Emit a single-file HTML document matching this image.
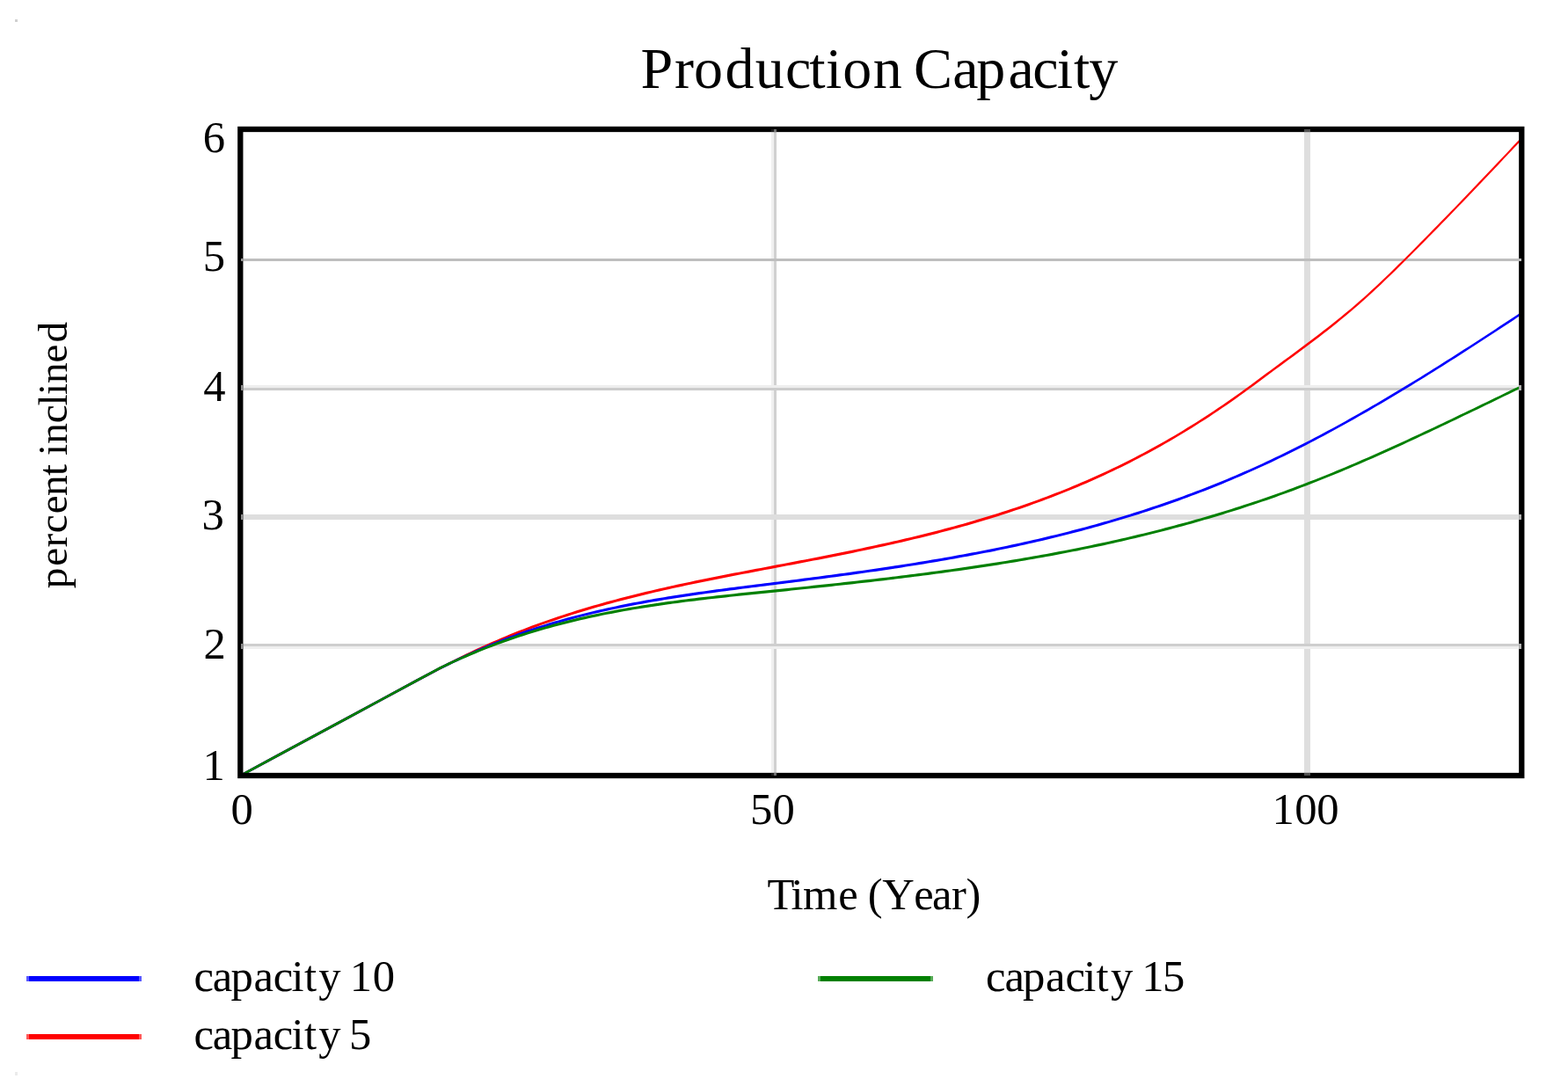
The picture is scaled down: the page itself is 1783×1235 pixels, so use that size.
<!DOCTYPE html>
<html><head><meta charset="utf-8"><title>Production Capacity</title>
<style>
html,body{margin:0;padding:0;background:#fff;width:1783px;height:1235px;overflow:hidden}
svg{display:block}
text{font-family:"Liberation Serif","Times New Roman",serif;fill:#000}
</style></head><body>
<svg width="1783" height="1235" viewBox="0 0 1783 1235">
<rect x="0" y="0" width="1783" height="1235" fill="#fff"/>
<rect x="17" y="22" width="3" height="3" fill="#d0d0d0"/>
<rect x="17" y="1219" width="3" height="4" fill="#ebebeb"/>
<g shape-rendering="crispEdges">
<rect x="877" y="150" width="3" height="729" fill="#f0f0f0"/>
<rect x="880" y="150" width="3" height="729" fill="#d0d0d0"/>
<rect x="1483" y="150" width="7" height="729" fill="#dedede"/>
<rect x="277" y="294" width="1450" height="3" fill="#bebebe"/>
<rect x="277" y="438" width="1450" height="3" fill="#eeeeee"/>
<rect x="277" y="441" width="1450" height="3" fill="#cccccc"/>
<rect x="277" y="585" width="1450" height="6" fill="#dedede"/>
<rect x="277" y="732" width="1450" height="3" fill="#cecece"/>
<rect x="277" y="735" width="1450" height="3" fill="#efefef"/>
</g>
<g stroke="none">
<path d="M 273.5 880.42 L 313.5 858.86 L 353.5 837.30 L 393.5 815.74 L 433.5 794.18 L 473.5 772.62 L 500.0 758.52 L 505.0 755.96 L 510.0 753.43 L 515.0 750.93 L 520.0 748.46 L 525.0 746.01 L 530.0 743.60 L 535.0 741.21 L 540.0 738.86 L 545.0 736.54 L 550.0 734.26 L 555.0 732.02 L 560.0 729.81 L 565.0 727.64 L 570.0 725.50 L 575.0 723.41 L 580.0 721.35 L 585.0 719.33 L 590.0 717.35 L 595.0 715.40 L 600.0 713.49 L 605.0 711.61 L 610.0 709.77 L 615.0 707.96 L 620.0 706.18 L 625.0 704.43 L 630.0 702.72 L 635.0 701.03 L 640.0 699.38 L 645.0 697.75 L 650.0 696.15 L 655.0 694.58 L 660.0 693.04 L 665.0 691.53 L 670.0 690.04 L 675.0 688.58 L 680.0 687.14 L 685.0 685.73 L 690.0 684.34 L 695.0 682.98 L 700.0 681.63 L 705.0 680.31 L 710.0 679.01 L 715.0 677.73 L 720.0 676.47 L 725.0 675.23 L 730.0 674.01 L 735.0 672.81 L 740.0 671.63 L 745.0 670.46 L 750.0 669.31 L 755.0 668.17 L 760.0 667.05 L 765.0 665.94 L 770.0 664.85 L 775.0 663.77 L 780.0 662.70 L 785.0 661.65 L 790.0 660.60 L 795.0 659.57 L 800.0 658.55 L 805.0 657.54 L 810.0 656.53 L 815.0 655.53 L 820.0 654.55 L 825.0 653.56 L 830.0 652.59 L 835.0 651.62 L 840.0 650.66 L 845.0 649.70 L 850.0 648.74 L 855.0 647.79 L 860.0 646.84 L 865.0 645.89 L 870.0 644.94 L 875.0 644.00 L 880.0 643.05 L 885.0 642.10 L 890.0 641.16 L 895.0 640.21 L 900.0 639.26 L 905.0 638.31 L 910.0 637.35 L 915.0 636.39 L 920.0 635.43 L 925.0 634.46 L 930.0 633.49 L 935.0 632.51 L 940.0 631.53 L 945.0 630.54 L 950.0 629.54 L 955.0 628.54 L 960.0 627.53 L 965.0 626.51 L 970.0 625.48 L 975.0 624.45 L 980.0 623.40 L 985.0 622.35 L 990.0 621.28 L 995.0 620.20 L 1000.0 619.11 L 1005.0 618.01 L 1010.0 616.90 L 1015.0 615.78 L 1020.0 614.64 L 1025.0 613.49 L 1030.0 612.32 L 1035.0 611.14 L 1040.0 609.94 L 1045.0 608.73 L 1050.0 607.50 L 1055.0 606.26 L 1060.0 605.00 L 1065.0 603.72 L 1070.0 602.42 L 1075.0 601.11 L 1080.0 599.77 L 1085.0 598.42 L 1090.0 597.05 L 1095.0 595.65 L 1100.0 594.24 L 1105.0 592.80 L 1110.0 591.35 L 1115.0 589.87 L 1120.0 588.36 L 1125.0 586.84 L 1130.0 585.29 L 1135.0 583.72 L 1140.0 582.12 L 1145.0 580.50 L 1150.0 578.85 L 1155.0 577.17 L 1160.0 575.47 L 1165.0 573.75 L 1170.0 571.99 L 1175.0 570.21 L 1180.0 568.40 L 1185.0 566.56 L 1190.0 564.69 L 1195.0 562.79 L 1200.0 560.86 L 1205.0 558.90 L 1210.0 556.91 L 1215.0 554.89 L 1220.0 552.83 L 1225.0 550.74 L 1230.0 548.62 L 1235.0 546.47 L 1240.0 544.28 L 1245.0 542.06 L 1250.0 539.80 L 1255.0 537.51 L 1260.0 535.18 L 1265.0 532.82 L 1270.0 530.41 L 1275.0 527.97 L 1280.0 525.50 L 1285.0 522.98 L 1290.0 520.43 L 1295.0 517.84 L 1300.0 515.20 L 1305.0 512.53 L 1310.0 509.82 L 1315.0 507.06 L 1320.0 504.27 L 1325.0 501.43 L 1330.0 498.55 L 1335.0 495.63 L 1340.0 492.66 L 1345.0 489.66 L 1350.0 486.61 L 1355.0 483.52 L 1360.0 480.38 L 1365.0 477.21 L 1370.0 473.99 L 1375.0 470.73 L 1380.0 467.42 L 1385.0 464.07 L 1390.0 460.68 L 1395.0 457.25 L 1400.0 453.78 L 1405.0 450.26 L 1410.0 446.70 L 1415.0 443.09 L 1420.0 439.44 L 1425.0 435.75 L 1430.0 432.03 L 1435.0 428.30 L 1440.0 424.58 L 1445.0 420.88 L 1450.0 417.19 L 1455.0 413.51 L 1460.0 409.84 L 1465.0 406.16 L 1470.0 402.47 L 1475.0 398.78 L 1480.0 395.06 L 1485.0 391.33 L 1490.0 387.58 L 1495.0 383.79 L 1500.0 379.97 L 1505.0 376.12 L 1510.0 372.22 L 1515.0 368.27 L 1520.0 364.27 L 1525.0 360.21 L 1530.0 356.09 L 1535.0 351.91 L 1540.0 347.65 L 1545.0 343.32 L 1550.0 338.91 L 1555.0 334.42 L 1560.0 329.85 L 1565.0 325.20 L 1570.0 320.48 L 1575.0 315.71 L 1580.0 310.88 L 1585.0 306.00 L 1590.0 301.09 L 1595.0 296.14 L 1600.0 291.16 L 1605.0 286.16 L 1610.0 281.14 L 1615.0 276.09 L 1620.0 271.03 L 1625.0 265.96 L 1630.0 260.86 L 1635.0 255.75 L 1640.0 250.62 L 1645.0 245.47 L 1650.0 240.31 L 1655.0 235.14 L 1660.0 229.95 L 1665.0 224.75 L 1670.0 219.53 L 1675.0 214.31 L 1680.0 209.07 L 1685.0 203.83 L 1690.0 198.57 L 1695.0 193.30 L 1700.0 188.03 L 1705.0 182.75 L 1710.0 177.46 L 1715.0 172.17 L 1720.0 166.87 L 1725.0 161.57 L 1730.0 156.26 L 1730.5 155.73 L 1730.5 158.89 L 1730.0 159.42 L 1725.0 164.73 L 1720.0 170.03 L 1715.0 175.33 L 1710.0 180.62 L 1705.0 185.91 L 1700.0 191.19 L 1695.0 196.46 L 1690.0 201.73 L 1685.0 206.99 L 1680.0 212.23 L 1675.0 217.47 L 1670.0 222.69 L 1665.0 227.91 L 1660.0 233.11 L 1655.0 238.30 L 1650.0 243.47 L 1645.0 248.63 L 1640.0 253.78 L 1635.0 258.91 L 1630.0 264.02 L 1625.0 269.12 L 1620.0 274.19 L 1615.0 279.25 L 1610.0 284.30 L 1605.0 289.32 L 1600.0 294.32 L 1595.0 299.30 L 1590.0 304.25 L 1585.0 309.16 L 1580.0 314.04 L 1575.0 318.87 L 1570.0 323.64 L 1565.0 328.36 L 1560.0 333.01 L 1555.0 337.58 L 1550.0 342.07 L 1545.0 346.48 L 1540.0 350.81 L 1535.0 355.07 L 1530.0 359.25 L 1525.0 363.37 L 1520.0 367.43 L 1515.0 371.43 L 1510.0 375.38 L 1505.0 379.28 L 1500.0 383.13 L 1495.0 386.95 L 1490.0 390.74 L 1485.0 394.49 L 1480.0 398.22 L 1475.0 401.94 L 1470.0 405.63 L 1465.0 409.32 L 1460.0 413.00 L 1455.0 416.67 L 1450.0 420.35 L 1445.0 424.04 L 1440.0 427.74 L 1435.0 431.46 L 1430.0 435.19 L 1425.0 438.91 L 1420.0 442.60 L 1415.0 446.25 L 1410.0 449.86 L 1405.0 453.42 L 1400.0 456.94 L 1395.0 460.41 L 1390.0 463.84 L 1385.0 467.23 L 1380.0 470.58 L 1375.0 473.89 L 1370.0 477.15 L 1365.0 480.37 L 1360.0 483.54 L 1355.0 486.68 L 1350.0 489.77 L 1345.0 492.82 L 1340.0 495.82 L 1335.0 498.79 L 1330.0 501.71 L 1325.0 504.59 L 1320.0 507.43 L 1315.0 510.22 L 1310.0 512.98 L 1305.0 515.69 L 1300.0 518.36 L 1295.0 521.00 L 1290.0 523.59 L 1285.0 526.14 L 1280.0 528.66 L 1275.0 531.13 L 1270.0 533.57 L 1265.0 535.98 L 1260.0 538.34 L 1255.0 540.67 L 1250.0 542.96 L 1245.0 545.22 L 1240.0 547.44 L 1235.0 549.63 L 1230.0 551.78 L 1225.0 553.90 L 1220.0 555.99 L 1215.0 558.05 L 1210.0 560.07 L 1205.0 562.06 L 1200.0 564.02 L 1195.0 565.95 L 1190.0 567.85 L 1185.0 569.72 L 1180.0 571.56 L 1175.0 573.37 L 1170.0 575.15 L 1165.0 576.91 L 1160.0 578.63 L 1155.0 580.33 L 1150.0 582.01 L 1145.0 583.66 L 1140.0 585.28 L 1135.0 586.88 L 1130.0 588.45 L 1125.0 590.00 L 1120.0 591.52 L 1115.0 593.03 L 1110.0 594.51 L 1105.0 595.96 L 1100.0 597.40 L 1095.0 598.81 L 1090.0 600.21 L 1085.0 601.58 L 1080.0 602.93 L 1075.0 604.27 L 1070.0 605.58 L 1065.0 606.88 L 1060.0 608.16 L 1055.0 609.42 L 1050.0 610.66 L 1045.0 611.89 L 1040.0 613.10 L 1035.0 614.30 L 1030.0 615.48 L 1025.0 616.65 L 1020.0 617.80 L 1015.0 618.94 L 1010.0 620.06 L 1005.0 621.17 L 1000.0 622.27 L 995.0 623.36 L 990.0 624.44 L 985.0 625.51 L 980.0 626.56 L 975.0 627.61 L 970.0 628.64 L 965.0 629.67 L 960.0 630.69 L 955.0 631.70 L 950.0 632.70 L 945.0 633.70 L 940.0 634.69 L 935.0 635.67 L 930.0 636.65 L 925.0 637.62 L 920.0 638.59 L 915.0 639.55 L 910.0 640.51 L 905.0 641.47 L 900.0 642.42 L 895.0 643.37 L 890.0 644.32 L 885.0 645.26 L 880.0 646.21 L 875.0 647.16 L 870.0 648.10 L 865.0 649.05 L 860.0 650.00 L 855.0 650.95 L 850.0 651.90 L 845.0 652.86 L 840.0 653.82 L 835.0 654.78 L 830.0 655.75 L 825.0 656.72 L 820.0 657.71 L 815.0 658.69 L 810.0 659.69 L 805.0 660.70 L 800.0 661.71 L 795.0 662.73 L 790.0 663.76 L 785.0 664.81 L 780.0 665.86 L 775.0 666.93 L 770.0 668.01 L 765.0 669.10 L 760.0 670.21 L 755.0 671.33 L 750.0 672.47 L 745.0 673.62 L 740.0 674.79 L 735.0 675.97 L 730.0 677.17 L 725.0 678.39 L 720.0 679.63 L 715.0 680.89 L 710.0 682.17 L 705.0 683.47 L 700.0 684.79 L 695.0 686.14 L 690.0 687.50 L 685.0 688.89 L 680.0 690.30 L 675.0 691.74 L 670.0 693.20 L 665.0 694.69 L 660.0 696.20 L 655.0 697.74 L 650.0 699.31 L 645.0 700.91 L 640.0 702.54 L 635.0 704.19 L 630.0 705.88 L 625.0 707.59 L 620.0 709.34 L 615.0 711.12 L 610.0 712.93 L 605.0 714.77 L 600.0 716.65 L 595.0 718.56 L 590.0 720.51 L 585.0 722.49 L 580.0 724.51 L 575.0 726.57 L 570.0 728.66 L 565.0 730.80 L 560.0 732.97 L 555.0 735.18 L 550.0 737.42 L 545.0 739.70 L 540.0 742.02 L 535.0 744.37 L 530.0 746.76 L 525.0 749.17 L 520.0 751.62 L 515.0 754.09 L 510.0 756.59 L 505.0 759.12 L 500.0 761.68 L 473.5 775.78 L 433.5 797.34 L 393.5 818.90 L 353.5 840.46 L 313.5 862.02 L 273.5 883.58 Z" fill="#ff0000"/>
<path d="M 273.5 880.42 L 313.5 858.86 L 353.5 837.30 L 393.5 815.74 L 433.5 794.18 L 473.5 772.62 L 500.0 758.46 L 505.0 755.98 L 510.0 753.53 L 515.0 751.13 L 520.0 748.76 L 525.0 746.43 L 530.0 744.14 L 535.0 741.89 L 540.0 739.68 L 545.0 737.51 L 550.0 735.38 L 555.0 733.29 L 560.0 731.25 L 565.0 729.24 L 570.0 727.27 L 575.0 725.35 L 580.0 723.47 L 585.0 721.63 L 590.0 719.83 L 595.0 718.07 L 600.0 716.36 L 605.0 714.68 L 610.0 713.04 L 615.0 711.44 L 620.0 709.88 L 625.0 708.35 L 630.0 706.86 L 635.0 705.41 L 640.0 703.99 L 645.0 702.60 L 650.0 701.25 L 655.0 699.93 L 660.0 698.64 L 665.0 697.38 L 670.0 696.15 L 675.0 694.96 L 680.0 693.79 L 685.0 692.64 L 690.0 691.53 L 695.0 690.44 L 700.0 689.38 L 705.0 688.34 L 710.0 687.33 L 715.0 686.34 L 720.0 685.37 L 725.0 684.42 L 730.0 683.50 L 735.0 682.59 L 740.0 681.71 L 745.0 680.85 L 750.0 680.00 L 755.0 679.17 L 760.0 678.36 L 765.0 677.56 L 770.0 676.78 L 775.0 676.02 L 780.0 675.27 L 785.0 674.53 L 790.0 673.80 L 795.0 673.09 L 800.0 672.39 L 805.0 671.70 L 810.0 671.01 L 815.0 670.34 L 820.0 669.67 L 825.0 669.01 L 830.0 668.36 L 835.0 667.72 L 840.0 667.07 L 845.0 666.44 L 850.0 665.81 L 855.0 665.18 L 860.0 664.55 L 865.0 663.92 L 870.0 663.30 L 875.0 662.67 L 880.0 662.05 L 885.0 661.42 L 890.0 660.79 L 895.0 660.16 L 900.0 659.52 L 905.0 658.89 L 910.0 658.25 L 915.0 657.61 L 920.0 656.96 L 925.0 656.32 L 930.0 655.66 L 935.0 655.01 L 940.0 654.35 L 945.0 653.68 L 950.0 653.01 L 955.0 652.34 L 960.0 651.66 L 965.0 650.97 L 970.0 650.28 L 975.0 649.59 L 980.0 648.88 L 985.0 648.18 L 990.0 647.46 L 995.0 646.74 L 1000.0 646.01 L 1005.0 645.27 L 1010.0 644.52 L 1015.0 643.77 L 1020.0 643.01 L 1025.0 642.24 L 1030.0 641.46 L 1035.0 640.68 L 1040.0 639.88 L 1045.0 639.08 L 1050.0 638.26 L 1055.0 637.44 L 1060.0 636.60 L 1065.0 635.76 L 1070.0 634.90 L 1075.0 634.04 L 1080.0 633.16 L 1085.0 632.27 L 1090.0 631.37 L 1095.0 630.46 L 1100.0 629.53 L 1105.0 628.60 L 1110.0 627.65 L 1115.0 626.69 L 1120.0 625.71 L 1125.0 624.72 L 1130.0 623.72 L 1135.0 622.71 L 1140.0 621.68 L 1145.0 620.63 L 1150.0 619.58 L 1155.0 618.50 L 1160.0 617.42 L 1165.0 616.31 L 1170.0 615.19 L 1175.0 614.06 L 1180.0 612.91 L 1185.0 611.74 L 1190.0 610.56 L 1195.0 609.36 L 1200.0 608.15 L 1205.0 606.91 L 1210.0 605.66 L 1215.0 604.39 L 1220.0 603.11 L 1225.0 601.80 L 1230.0 600.48 L 1235.0 599.14 L 1240.0 597.78 L 1245.0 596.40 L 1250.0 595.00 L 1255.0 593.58 L 1260.0 592.14 L 1265.0 590.68 L 1270.0 589.20 L 1275.0 587.71 L 1280.0 586.19 L 1285.0 584.64 L 1290.0 583.08 L 1295.0 581.50 L 1300.0 579.89 L 1305.0 578.26 L 1310.0 576.61 L 1315.0 574.94 L 1320.0 573.24 L 1325.0 571.52 L 1330.0 569.78 L 1335.0 568.02 L 1340.0 566.23 L 1345.0 564.41 L 1350.0 562.58 L 1355.0 560.71 L 1360.0 558.83 L 1365.0 556.91 L 1370.0 554.98 L 1375.0 553.01 L 1380.0 551.03 L 1385.0 549.01 L 1390.0 546.97 L 1395.0 544.90 L 1400.0 542.81 L 1405.0 540.69 L 1410.0 538.54 L 1415.0 536.37 L 1420.0 534.16 L 1425.0 531.93 L 1430.0 529.67 L 1435.0 527.38 L 1440.0 525.07 L 1445.0 522.72 L 1450.0 520.35 L 1455.0 517.95 L 1460.0 515.52 L 1465.0 513.07 L 1470.0 510.59 L 1475.0 508.08 L 1480.0 505.55 L 1485.0 502.99 L 1490.0 500.40 L 1495.0 497.80 L 1500.0 495.16 L 1505.0 492.51 L 1510.0 489.83 L 1515.0 487.13 L 1520.0 484.40 L 1525.0 481.66 L 1530.0 478.89 L 1535.0 476.10 L 1540.0 473.29 L 1545.0 470.46 L 1550.0 467.61 L 1555.0 464.73 L 1560.0 461.84 L 1565.0 458.93 L 1570.0 456.01 L 1575.0 453.06 L 1580.0 450.10 L 1585.0 447.11 L 1590.0 444.12 L 1595.0 441.10 L 1600.0 438.07 L 1605.0 435.02 L 1610.0 431.96 L 1615.0 428.88 L 1620.0 425.79 L 1625.0 422.68 L 1630.0 419.56 L 1635.0 416.43 L 1640.0 413.28 L 1645.0 410.12 L 1650.0 406.95 L 1655.0 403.77 L 1660.0 400.57 L 1665.0 397.37 L 1670.0 394.15 L 1675.0 390.92 L 1680.0 387.69 L 1685.0 384.44 L 1690.0 381.19 L 1695.0 377.92 L 1700.0 374.65 L 1705.0 371.37 L 1710.0 368.08 L 1715.0 364.79 L 1720.0 361.49 L 1725.0 358.18 L 1730.0 354.86 L 1730.5 354.53 L 1730.5 357.69 L 1730.0 358.02 L 1725.0 361.34 L 1720.0 364.65 L 1715.0 367.95 L 1710.0 371.24 L 1705.0 374.53 L 1700.0 377.81 L 1695.0 381.08 L 1690.0 384.35 L 1685.0 387.60 L 1680.0 390.85 L 1675.0 394.08 L 1670.0 397.31 L 1665.0 400.53 L 1660.0 403.73 L 1655.0 406.93 L 1650.0 410.11 L 1645.0 413.28 L 1640.0 416.44 L 1635.0 419.59 L 1630.0 422.72 L 1625.0 425.84 L 1620.0 428.95 L 1615.0 432.04 L 1610.0 435.12 L 1605.0 438.18 L 1600.0 441.23 L 1595.0 444.26 L 1590.0 447.28 L 1585.0 450.27 L 1580.0 453.26 L 1575.0 456.22 L 1570.0 459.17 L 1565.0 462.09 L 1560.0 465.00 L 1555.0 467.89 L 1550.0 470.77 L 1545.0 473.62 L 1540.0 476.45 L 1535.0 479.26 L 1530.0 482.05 L 1525.0 484.82 L 1520.0 487.56 L 1515.0 490.29 L 1510.0 492.99 L 1505.0 495.67 L 1500.0 498.32 L 1495.0 500.96 L 1490.0 503.56 L 1485.0 506.15 L 1480.0 508.71 L 1475.0 511.24 L 1470.0 513.75 L 1465.0 516.23 L 1460.0 518.68 L 1455.0 521.11 L 1450.0 523.51 L 1445.0 525.88 L 1440.0 528.23 L 1435.0 530.54 L 1430.0 532.83 L 1425.0 535.09 L 1420.0 537.32 L 1415.0 539.53 L 1410.0 541.70 L 1405.0 543.85 L 1400.0 545.97 L 1395.0 548.06 L 1390.0 550.13 L 1385.0 552.17 L 1380.0 554.19 L 1375.0 556.17 L 1370.0 558.14 L 1365.0 560.07 L 1360.0 561.99 L 1355.0 563.87 L 1350.0 565.74 L 1345.0 567.57 L 1340.0 569.39 L 1335.0 571.18 L 1330.0 572.94 L 1325.0 574.68 L 1320.0 576.40 L 1315.0 578.10 L 1310.0 579.77 L 1305.0 581.42 L 1300.0 583.05 L 1295.0 584.66 L 1290.0 586.24 L 1285.0 587.80 L 1280.0 589.35 L 1275.0 590.87 L 1270.0 592.36 L 1265.0 593.84 L 1260.0 595.30 L 1255.0 596.74 L 1250.0 598.16 L 1245.0 599.56 L 1240.0 600.94 L 1235.0 602.30 L 1230.0 603.64 L 1225.0 604.96 L 1220.0 606.27 L 1215.0 607.55 L 1210.0 608.82 L 1205.0 610.07 L 1200.0 611.31 L 1195.0 612.52 L 1190.0 613.72 L 1185.0 614.90 L 1180.0 616.07 L 1175.0 617.22 L 1170.0 618.35 L 1165.0 619.47 L 1160.0 620.58 L 1155.0 621.66 L 1150.0 622.74 L 1145.0 623.79 L 1140.0 624.84 L 1135.0 625.87 L 1130.0 626.88 L 1125.0 627.88 L 1120.0 628.87 L 1115.0 629.85 L 1110.0 630.81 L 1105.0 631.76 L 1100.0 632.69 L 1095.0 633.62 L 1090.0 634.53 L 1085.0 635.43 L 1080.0 636.32 L 1075.0 637.20 L 1070.0 638.06 L 1065.0 638.92 L 1060.0 639.76 L 1055.0 640.60 L 1050.0 641.42 L 1045.0 642.24 L 1040.0 643.04 L 1035.0 643.84 L 1030.0 644.62 L 1025.0 645.40 L 1020.0 646.17 L 1015.0 646.93 L 1010.0 647.68 L 1005.0 648.43 L 1000.0 649.17 L 995.0 649.90 L 990.0 650.62 L 985.0 651.34 L 980.0 652.04 L 975.0 652.75 L 970.0 653.44 L 965.0 654.13 L 960.0 654.82 L 955.0 655.50 L 950.0 656.17 L 945.0 656.84 L 940.0 657.51 L 935.0 658.17 L 930.0 658.82 L 925.0 659.48 L 920.0 660.12 L 915.0 660.77 L 910.0 661.41 L 905.0 662.05 L 900.0 662.68 L 895.0 663.32 L 890.0 663.95 L 885.0 664.58 L 880.0 665.21 L 875.0 665.83 L 870.0 666.46 L 865.0 667.08 L 860.0 667.71 L 855.0 668.34 L 850.0 668.97 L 845.0 669.60 L 840.0 670.23 L 835.0 670.88 L 830.0 671.52 L 825.0 672.17 L 820.0 672.83 L 815.0 673.50 L 810.0 674.17 L 805.0 674.86 L 800.0 675.55 L 795.0 676.25 L 790.0 676.96 L 785.0 677.69 L 780.0 678.43 L 775.0 679.18 L 770.0 679.94 L 765.0 680.72 L 760.0 681.52 L 755.0 682.33 L 750.0 683.16 L 745.0 684.01 L 740.0 684.87 L 735.0 685.75 L 730.0 686.66 L 725.0 687.58 L 720.0 688.53 L 715.0 689.50 L 710.0 690.49 L 705.0 691.50 L 700.0 692.54 L 695.0 693.60 L 690.0 694.69 L 685.0 695.80 L 680.0 696.95 L 675.0 698.12 L 670.0 699.31 L 665.0 700.54 L 660.0 701.80 L 655.0 703.09 L 650.0 704.41 L 645.0 705.76 L 640.0 707.15 L 635.0 708.57 L 630.0 710.02 L 625.0 711.51 L 620.0 713.04 L 615.0 714.60 L 610.0 716.20 L 605.0 717.84 L 600.0 719.52 L 595.0 721.23 L 590.0 722.99 L 585.0 724.79 L 580.0 726.63 L 575.0 728.51 L 570.0 730.43 L 565.0 732.40 L 560.0 734.41 L 555.0 736.45 L 550.0 738.54 L 545.0 740.67 L 540.0 742.84 L 535.0 745.05 L 530.0 747.30 L 525.0 749.59 L 520.0 751.92 L 515.0 754.29 L 510.0 756.69 L 505.0 759.14 L 500.0 761.62 L 473.5 775.78 L 433.5 797.34 L 393.5 818.90 L 353.5 840.46 L 313.5 862.02 L 273.5 883.58 Z" fill="#0000ff"/>
<path d="M 273.5 880.42 L 313.5 858.86 L 353.5 837.30 L 393.5 815.74 L 433.5 794.18 L 473.5 772.62 L 500.0 758.34 L 505.0 755.91 L 510.0 753.53 L 515.0 751.20 L 520.0 748.91 L 525.0 746.67 L 530.0 744.47 L 535.0 742.33 L 540.0 740.22 L 545.0 738.16 L 550.0 736.15 L 555.0 734.18 L 560.0 732.26 L 565.0 730.37 L 570.0 728.54 L 575.0 726.74 L 580.0 724.98 L 585.0 723.27 L 590.0 721.60 L 595.0 719.97 L 600.0 718.38 L 605.0 716.82 L 610.0 715.31 L 615.0 713.83 L 620.0 712.39 L 625.0 710.99 L 630.0 709.62 L 635.0 708.29 L 640.0 706.99 L 645.0 705.72 L 650.0 704.48 L 655.0 703.28 L 660.0 702.11 L 665.0 700.97 L 670.0 699.86 L 675.0 698.77 L 680.0 697.72 L 685.0 696.69 L 690.0 695.69 L 695.0 694.72 L 700.0 693.77 L 705.0 692.84 L 710.0 691.94 L 715.0 691.07 L 720.0 690.21 L 725.0 689.38 L 730.0 688.57 L 735.0 687.78 L 740.0 687.01 L 745.0 686.26 L 750.0 685.52 L 755.0 684.80 L 760.0 684.10 L 765.0 683.42 L 770.0 682.75 L 775.0 682.10 L 780.0 681.46 L 785.0 680.83 L 790.0 680.22 L 795.0 679.62 L 800.0 679.03 L 805.0 678.45 L 810.0 677.88 L 815.0 677.32 L 820.0 676.76 L 825.0 676.22 L 830.0 675.68 L 835.0 675.15 L 840.0 674.62 L 845.0 674.10 L 850.0 673.58 L 855.0 673.06 L 860.0 672.55 L 865.0 672.04 L 870.0 671.53 L 875.0 671.02 L 880.0 670.51 L 885.0 670.00 L 890.0 669.49 L 895.0 668.98 L 900.0 668.46 L 905.0 667.95 L 910.0 667.43 L 915.0 666.91 L 920.0 666.39 L 925.0 665.86 L 930.0 665.33 L 935.0 664.80 L 940.0 664.27 L 945.0 663.73 L 950.0 663.19 L 955.0 662.65 L 960.0 662.10 L 965.0 661.55 L 970.0 661.00 L 975.0 660.44 L 980.0 659.87 L 985.0 659.30 L 990.0 658.73 L 995.0 658.15 L 1000.0 657.57 L 1005.0 656.98 L 1010.0 656.39 L 1015.0 655.79 L 1020.0 655.18 L 1025.0 654.57 L 1030.0 653.95 L 1035.0 653.33 L 1040.0 652.70 L 1045.0 652.06 L 1050.0 651.42 L 1055.0 650.77 L 1060.0 650.11 L 1065.0 649.45 L 1070.0 648.77 L 1075.0 648.09 L 1080.0 647.41 L 1085.0 646.71 L 1090.0 646.00 L 1095.0 645.29 L 1100.0 644.57 L 1105.0 643.84 L 1110.0 643.10 L 1115.0 642.35 L 1120.0 641.59 L 1125.0 640.82 L 1130.0 640.05 L 1135.0 639.26 L 1140.0 638.46 L 1145.0 637.66 L 1150.0 636.84 L 1155.0 636.01 L 1160.0 635.17 L 1165.0 634.32 L 1170.0 633.46 L 1175.0 632.59 L 1180.0 631.71 L 1185.0 630.81 L 1190.0 629.91 L 1195.0 628.99 L 1200.0 628.06 L 1205.0 627.11 L 1210.0 626.16 L 1215.0 625.19 L 1220.0 624.21 L 1225.0 623.22 L 1230.0 622.21 L 1235.0 621.19 L 1240.0 620.16 L 1245.0 619.11 L 1250.0 618.05 L 1255.0 616.97 L 1260.0 615.88 L 1265.0 614.78 L 1270.0 613.66 L 1275.0 612.53 L 1280.0 611.38 L 1285.0 610.21 L 1290.0 609.04 L 1295.0 607.84 L 1300.0 606.63 L 1305.0 605.41 L 1310.0 604.17 L 1315.0 602.91 L 1320.0 601.64 L 1325.0 600.34 L 1330.0 599.04 L 1335.0 597.71 L 1340.0 596.37 L 1345.0 595.02 L 1350.0 593.64 L 1355.0 592.25 L 1360.0 590.84 L 1365.0 589.41 L 1370.0 587.96 L 1375.0 586.50 L 1380.0 585.01 L 1385.0 583.51 L 1390.0 581.99 L 1395.0 580.45 L 1400.0 578.89 L 1405.0 577.32 L 1410.0 575.72 L 1415.0 574.10 L 1420.0 572.46 L 1425.0 570.81 L 1430.0 569.13 L 1435.0 567.43 L 1440.0 565.72 L 1445.0 563.98 L 1450.0 562.22 L 1455.0 560.44 L 1460.0 558.64 L 1465.0 556.81 L 1470.0 554.97 L 1475.0 553.10 L 1480.0 551.21 L 1485.0 549.30 L 1490.0 547.37 L 1495.0 545.42 L 1500.0 543.44 L 1505.0 541.44 L 1510.0 539.42 L 1515.0 537.39 L 1520.0 535.33 L 1525.0 533.25 L 1530.0 531.16 L 1535.0 529.05 L 1540.0 526.92 L 1545.0 524.77 L 1550.0 522.60 L 1555.0 520.43 L 1560.0 518.23 L 1565.0 516.02 L 1570.0 513.80 L 1575.0 511.56 L 1580.0 509.31 L 1585.0 507.04 L 1590.0 504.76 L 1595.0 502.47 L 1600.0 500.17 L 1605.0 497.86 L 1610.0 495.54 L 1615.0 493.21 L 1620.0 490.87 L 1625.0 488.52 L 1630.0 486.16 L 1635.0 483.80 L 1640.0 481.42 L 1645.0 479.04 L 1650.0 476.66 L 1655.0 474.26 L 1660.0 471.87 L 1665.0 469.46 L 1670.0 467.06 L 1675.0 464.65 L 1680.0 462.23 L 1685.0 459.82 L 1690.0 457.40 L 1695.0 454.98 L 1700.0 452.56 L 1705.0 450.13 L 1710.0 447.71 L 1715.0 445.29 L 1720.0 442.87 L 1725.0 440.45 L 1730.0 438.03 L 1730.5 437.79 L 1730.5 440.95 L 1730.0 441.19 L 1725.0 443.61 L 1720.0 446.03 L 1715.0 448.45 L 1710.0 450.87 L 1705.0 453.29 L 1700.0 455.72 L 1695.0 458.14 L 1690.0 460.56 L 1685.0 462.98 L 1680.0 465.39 L 1675.0 467.81 L 1670.0 470.22 L 1665.0 472.62 L 1660.0 475.03 L 1655.0 477.42 L 1650.0 479.82 L 1645.0 482.20 L 1640.0 484.58 L 1635.0 486.96 L 1630.0 489.32 L 1625.0 491.68 L 1620.0 494.03 L 1615.0 496.37 L 1610.0 498.70 L 1605.0 501.02 L 1600.0 503.33 L 1595.0 505.63 L 1590.0 507.92 L 1585.0 510.20 L 1580.0 512.47 L 1575.0 514.72 L 1570.0 516.96 L 1565.0 519.18 L 1560.0 521.39 L 1555.0 523.59 L 1550.0 525.76 L 1545.0 527.93 L 1540.0 530.08 L 1535.0 532.21 L 1530.0 534.32 L 1525.0 536.41 L 1520.0 538.49 L 1515.0 540.55 L 1510.0 542.58 L 1505.0 544.60 L 1500.0 546.60 L 1495.0 548.58 L 1490.0 550.53 L 1485.0 552.46 L 1480.0 554.37 L 1475.0 556.26 L 1470.0 558.13 L 1465.0 559.97 L 1460.0 561.80 L 1455.0 563.60 L 1450.0 565.38 L 1445.0 567.14 L 1440.0 568.88 L 1435.0 570.59 L 1430.0 572.29 L 1425.0 573.97 L 1420.0 575.62 L 1415.0 577.26 L 1410.0 578.88 L 1405.0 580.48 L 1400.0 582.05 L 1395.0 583.61 L 1390.0 585.15 L 1385.0 586.67 L 1380.0 588.17 L 1375.0 589.66 L 1370.0 591.12 L 1365.0 592.57 L 1360.0 594.00 L 1355.0 595.41 L 1350.0 596.80 L 1345.0 598.18 L 1340.0 599.53 L 1335.0 600.87 L 1330.0 602.20 L 1325.0 603.50 L 1320.0 604.80 L 1315.0 606.07 L 1310.0 607.33 L 1305.0 608.57 L 1300.0 609.79 L 1295.0 611.00 L 1290.0 612.20 L 1285.0 613.37 L 1280.0 614.54 L 1275.0 615.69 L 1270.0 616.82 L 1265.0 617.94 L 1260.0 619.04 L 1255.0 620.13 L 1250.0 621.21 L 1245.0 622.27 L 1240.0 623.32 L 1235.0 624.35 L 1230.0 625.37 L 1225.0 626.38 L 1220.0 627.37 L 1215.0 628.35 L 1210.0 629.32 L 1205.0 630.27 L 1200.0 631.22 L 1195.0 632.15 L 1190.0 633.07 L 1185.0 633.97 L 1180.0 634.87 L 1175.0 635.75 L 1170.0 636.62 L 1165.0 637.48 L 1160.0 638.33 L 1155.0 639.17 L 1150.0 640.00 L 1145.0 640.82 L 1140.0 641.62 L 1135.0 642.42 L 1130.0 643.21 L 1125.0 643.98 L 1120.0 644.75 L 1115.0 645.51 L 1110.0 646.26 L 1105.0 647.00 L 1100.0 647.73 L 1095.0 648.45 L 1090.0 649.16 L 1085.0 649.87 L 1080.0 650.57 L 1075.0 651.25 L 1070.0 651.93 L 1065.0 652.61 L 1060.0 653.27 L 1055.0 653.93 L 1050.0 654.58 L 1045.0 655.22 L 1040.0 655.86 L 1035.0 656.49 L 1030.0 657.11 L 1025.0 657.73 L 1020.0 658.34 L 1015.0 658.95 L 1010.0 659.55 L 1005.0 660.14 L 1000.0 660.73 L 995.0 661.31 L 990.0 661.89 L 985.0 662.46 L 980.0 663.03 L 975.0 663.60 L 970.0 664.16 L 965.0 664.71 L 960.0 665.26 L 955.0 665.81 L 950.0 666.35 L 945.0 666.89 L 940.0 667.43 L 935.0 667.96 L 930.0 668.49 L 925.0 669.02 L 920.0 669.55 L 915.0 670.07 L 910.0 670.59 L 905.0 671.11 L 900.0 671.62 L 895.0 672.14 L 890.0 672.65 L 885.0 673.16 L 880.0 673.67 L 875.0 674.18 L 870.0 674.69 L 865.0 675.20 L 860.0 675.71 L 855.0 676.22 L 850.0 676.74 L 845.0 677.26 L 840.0 677.78 L 835.0 678.31 L 830.0 678.84 L 825.0 679.38 L 820.0 679.92 L 815.0 680.48 L 810.0 681.04 L 805.0 681.61 L 800.0 682.19 L 795.0 682.78 L 790.0 683.38 L 785.0 683.99 L 780.0 684.62 L 775.0 685.26 L 770.0 685.91 L 765.0 686.58 L 760.0 687.26 L 755.0 687.96 L 750.0 688.68 L 745.0 689.42 L 740.0 690.17 L 735.0 690.94 L 730.0 691.73 L 725.0 692.54 L 720.0 693.37 L 715.0 694.23 L 710.0 695.10 L 705.0 696.00 L 700.0 696.93 L 695.0 697.88 L 690.0 698.85 L 685.0 699.85 L 680.0 700.88 L 675.0 701.93 L 670.0 703.02 L 665.0 704.13 L 660.0 705.27 L 655.0 706.44 L 650.0 707.64 L 645.0 708.88 L 640.0 710.15 L 635.0 711.45 L 630.0 712.78 L 625.0 714.15 L 620.0 715.55 L 615.0 716.99 L 610.0 718.47 L 605.0 719.98 L 600.0 721.54 L 595.0 723.13 L 590.0 724.76 L 585.0 726.43 L 580.0 728.14 L 575.0 729.90 L 570.0 731.70 L 565.0 733.53 L 560.0 735.42 L 555.0 737.34 L 550.0 739.31 L 545.0 741.32 L 540.0 743.38 L 535.0 745.49 L 530.0 747.63 L 525.0 749.83 L 520.0 752.07 L 515.0 754.36 L 510.0 756.69 L 505.0 759.07 L 500.0 761.50 L 473.5 775.78 L 433.5 797.34 L 393.5 818.90 L 353.5 840.46 L 313.5 862.02 L 273.5 883.58 Z" fill="#008000"/>
</g>
<rect x="273.3" y="147" width="1457" height="735" fill="none" stroke="#000" stroke-width="6.3"/>
<g shape-rendering="crispEdges">
<rect x="273.7" y="294" width="3.3" height="3" fill="#959595"/>
<rect x="273.7" y="438" width="3.3" height="6" fill="#8a8a8a"/>
<rect x="273.7" y="585" width="3.3" height="6" fill="#8a8a8a"/>
<rect x="273.7" y="732" width="3.3" height="6" fill="#8a8a8a"/>
<rect x="1727" y="294" width="3.3" height="3" fill="#bbbbbb"/>
<rect x="1727" y="438" width="3.3" height="6" fill="#b0b0b0"/>
<rect x="1727" y="585" width="3.3" height="6" fill="#b0b0b0"/>
<rect x="1727" y="732" width="3.3" height="6" fill="#b0b0b0"/>
<rect x="877" y="147" width="3" height="3" fill="#1e1e1e"/>
<rect x="877" y="879" width="3" height="3" fill="#1e1e1e"/>
<rect x="880" y="147" width="3" height="3" fill="#707070"/>
<rect x="880" y="879" width="3" height="3" fill="#707070"/>
<rect x="1483" y="147" width="7" height="3" fill="#505050"/>
<rect x="1483" y="879" width="7" height="3" fill="#505050"/>
</g>
<text x="728.6 766.9 789.1 824.4 858.8 892.9 920.2 939.0 958.2 992.7 1025.7 1039.0 1083.3 1110.3 1146.4 1174.3 1201.7 1220.9 1238.3" y="99.7" font-size="66.0">Production Capacity</text>
<text x="230.8" y="173.3" font-size="50.6">6</text>
<text x="230.7" y="308" font-size="50.6">5</text>
<text x="231.3" y="455.5" font-size="50.6">4</text>
<text x="229.6" y="602" font-size="50.6">3</text>
<text x="231.5" y="749.3" font-size="50.6">2</text>
<text x="230.5" y="887" font-size="50.6">1</text>
<text x="262.4" y="936.6" font-size="50.6">0</text>
<text x="852.9 878.5" y="936.6" font-size="50.6">50</text>
<text x="1446.6 1472.3 1497.3" y="936.6" font-size="50.6">100</text>
<text x="872.6 899.6 913.1 953.2 975.7 986.8 1003.3 1039.3 1060.1 1082.0 1098.6" y="1034.2" font-size="50.6">Time (Year)</text>
<text transform="rotate(-90)" x="-669.3 -643.7 -622.4 -606.3 -584.3 -564.1 -541.1 -527.9 -517.9 -504.7 -481.3 -461.6 -449.1 -435.9 -412.6 -389.5" y="75.5" font-size="47.3">percent inclined</text>
<text x="220.4 241.8 262.5 288.4 310.8 331.6 345.9 362.3 387.6 397.8 423.8" y="1126.7" font-size="50.6">capacity 10</text>
<text x="220.4 241.8 262.5 288.4 310.8 331.6 345.9 362.3 387.6 397.1" y="1192.5" font-size="50.6">capacity 5</text>
<text x="1121.0 1142.4 1163.1 1189.0 1211.4 1232.2 1246.5 1262.9 1288.2 1298.2 1321.9" y="1126.7" font-size="50.6">capacity 15</text>
<g shape-rendering="crispEdges">
<rect x="30" y="1110" width="131" height="6" fill="#0000ff"/>
<rect x="30" y="1175.5" width="131" height="6" fill="#ff0000"/>
<rect x="930" y="1110" width="131" height="6" fill="#008000"/>
<rect x="30" y="1110" width="3" height="6" fill="#fff" fill-opacity="0.35"/>
<rect x="158" y="1110" width="3" height="6" fill="#fff" fill-opacity="0.35"/>
<rect x="30" y="1175.5" width="3" height="6" fill="#fff" fill-opacity="0.35"/>
<rect x="158" y="1175.5" width="3" height="6" fill="#fff" fill-opacity="0.35"/>
<rect x="930" y="1110" width="3" height="6" fill="#fff" fill-opacity="0.35"/>
<rect x="1058" y="1110" width="3" height="6" fill="#fff" fill-opacity="0.35"/>
</g>
</svg>
</body></html>
